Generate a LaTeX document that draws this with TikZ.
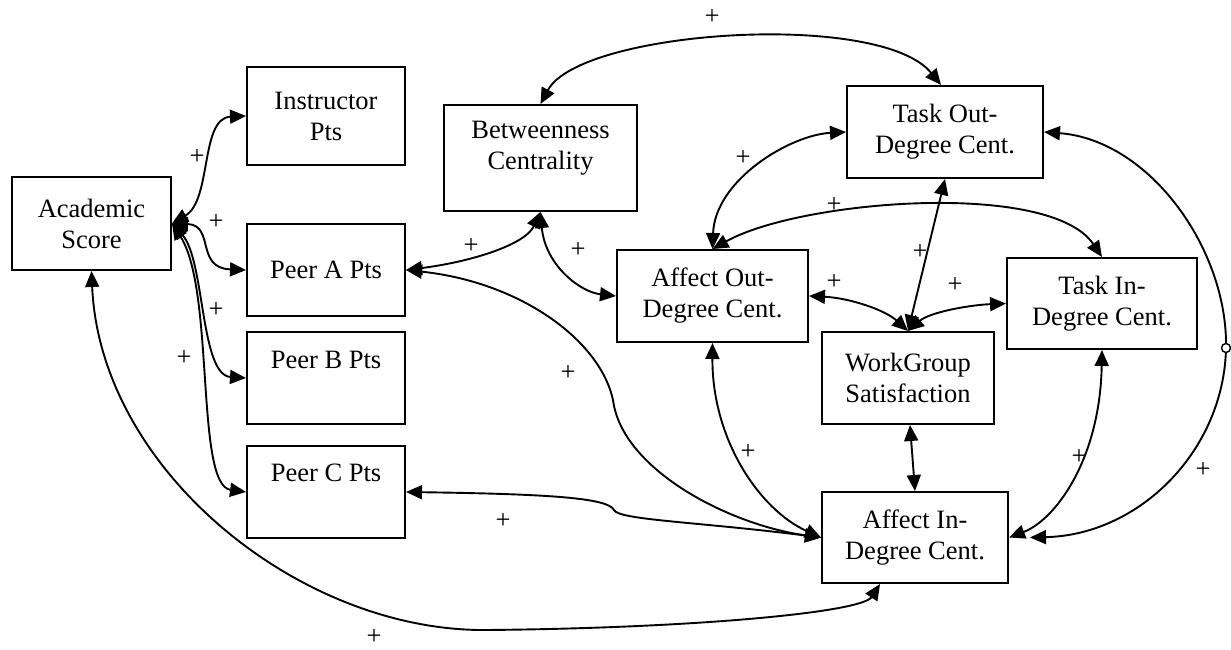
\documentclass[tikz,border=0pt]{standalone}
\usepackage{fontspec}
\setmainfont{Liberation Serif}
\usetikzlibrary{arrows.meta,calc}
\begin{document}
\begin{tikzpicture}[x=1pt,y=-1pt,
  font=\fontsize{26.5}{31}\selectfont,
  box/.style={draw, line width=2pt, align=center, inner sep=0pt},
  conn/.style={line width=1.9pt, {Triangle[length=16pt,width=14pt]}-{Triangle[length=16pt,width=14pt]}},
  plus/.style={inner sep=0pt}]
\path[use as bounding box, fill=white] (0,0) rectangle (1231,650);

% boxes
\node[box, minimum width=159pt, minimum height=93pt] (acad) at (91.5,223.5) {Academic\\Score};
\node[box, minimum width=158pt, minimum height=98pt] (instr) at (326,116) {Instructor\\Pts};
\node[box, minimum width=193pt, minimum height=106pt,
  label={[name=betwt,yshift=10pt,align=center]center:Betweenness\\Centrality}] (betw) at (540.5,158) {};
\node[box, minimum width=196pt, minimum height=92pt] (tout) at (945,132) {Task Out-\\Degree Cent.};
\node[box, minimum width=158pt, minimum height=92pt] (peerA) at (326,270) {Peer A Pts};
\node[box, minimum width=191pt, minimum height=92pt] (aout) at (712.5,296) {Affect Out-\\Degree Cent.};
\node[box, minimum width=190pt, minimum height=91pt] (tin) at (1102,303.5) {Task In-\\Degree Cent.};
\node[box, minimum width=172pt, minimum height=92pt] (wg) at (908,378) {WorkGroup\\Satisfaction};
\node[box, minimum width=158pt, minimum height=92pt,
  label={[name=peerBt,yshift=18pt]center:Peer B Pts}] (peerB) at (326,378) {};
\node[box, minimum width=158pt, minimum height=92pt,
  label={[name=peerCt,yshift=19pt]center:Peer C Pts}] (peerC) at (326,492) {};
\node[box, minimum width=186pt, minimum height=91pt] (ain) at (915,537.5) {Affect In-\\Degree Cent.};

% connectors
\draw[conn] (acad.east) .. controls (212,200) and (200,118) .. (instr.west);
\draw[conn] (acad.east) .. controls (215,225) and (195,268) .. (peerA.west);
\draw[conn] (acad.east) .. controls (205,260) and (200,375) .. (peerB.west);
\draw[conn] (acad.east) .. controls (215,290) and (195,485) .. (peerC.west);
\draw[conn] (acad.south) .. controls (100,470) and (300,632) .. (487,630)
   .. controls (700,628) and (862,612) .. ([xshift=-35pt]ain.south);
\draw[conn] (peerA.east) .. controls (470,262) and (525,245) .. (betw.south);
\draw[conn] (betw.south) .. controls (545,265) and (580,292) .. (aout.west);
\draw[conn] (peerA.east) .. controls (520,282) and (600,340) .. (613,400)
   .. controls (622,470) and (730,525) .. (ain.west);
\draw[conn] (peerC.east) .. controls (550,494) and (608,498) .. (614,510)
   .. controls (618,520) and (700,522) .. (ain.west);
\draw[conn] (aout.south) .. controls (712,440) and (760,510) .. (ain.west);
\draw[conn] (aout.north) .. controls (715,180) and (790,135) .. (tout.west);
\draw[conn] (aout.north) .. controls (800,200) and (1050,180) .. (tin.north);
\draw[conn] (betw.north) .. controls (580,30) and (880,10) .. ([xshift=-4pt]tout.north);
\draw[conn] (wg.north) -- (tout.south);
\draw[conn] (aout.east) .. controls (850,298) and (885,310) .. (wg.north);
\draw[conn] (wg.north) .. controls (930,312) and (970,305) .. (tin.west);
\draw[conn] ([xshift=2pt]wg.south) -- (ain.north);
\draw[conn] (tin.south) .. controls (1100,460) and (1055,520) .. (ain.east);
\coordinate (j) at (1226,348);
\draw[conn] (tout.east) .. controls (1150,140) and (1228,250) .. (j)
   .. controls (1224,450) and (1140,535) .. ([xshift=21pt]ain.east);
\node[circle, draw, fill=white, line width=1.4pt, inner sep=0pt, minimum size=9pt] (junc) at (j) {};

% plus signs
\node[plus] (p1) at (712,17) {+};
\node[plus] (p2) at (197,157) {+};
\node[plus] (p3) at (216,222) {+};
\node[plus] (p4) at (216,310) {+};
\node[plus] (p5) at (184,358) {+};
\node[plus] (p6) at (374,637) {+};
\node[plus] (p7) at (471,246) {+};
\node[plus] (p8) at (578,250) {+};
\node[plus] (p9) at (568,373) {+};
\node[plus] (p10) at (503,521) {+};
\node[plus] (p11) at (748,452) {+};
\node[plus] (p12) at (743,158) {+};
\node[plus] (p13) at (834,205) {+};
\node[plus] (p14) at (920,252) {+};
\node[plus] (p15) at (834,282) {+};
\node[plus] (p16) at (955,285) {+};
\node[plus] (p17) at (1079,457) {+};
\node[plus] (p18) at (1203,470) {+};
\end{tikzpicture}
\end{document}
